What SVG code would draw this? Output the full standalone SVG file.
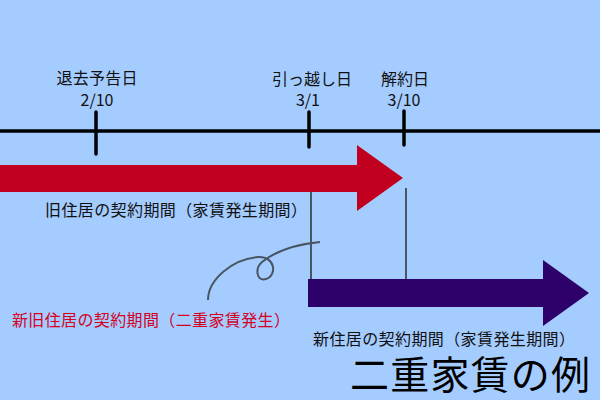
<svg xmlns="http://www.w3.org/2000/svg" width="600" height="400" viewBox="0 0 600 400">
<style>
text{font-family:"Noto Sans CJK JP","Noto Sans",sans-serif;font-size:16px;fill:#111}
.c{text-anchor:middle}
.tick{stroke:#000;stroke-width:3.5;stroke-linecap:round}
.guide{stroke:#4a5563;stroke-width:2;fill:none}
</style>
<rect width="600" height="400" fill="#a4ccff"/>
<g id="timeline">
<line x1="0" y1="131" x2="600" y2="131" stroke="#000" stroke-width="3.5"/>
</g>
<g id="date-notice">
<line class="tick" x1="96" y1="112" x2="96" y2="154"/>
<text class="c" x="97" y="84" textLength="81" lengthAdjust="spacing">退去予告日</text>
<text class="c" x="97" y="106">2/10</text>
</g>
<g id="date-move">
<line class="tick" x1="309" y1="112" x2="309" y2="147"/>
<text class="c" x="312" y="85" textLength="80" lengthAdjust="spacing">引っ越し日</text>
<text class="c" x="308" y="106">3/1</text>
</g>
<g id="date-cancel">
<line class="tick" x1="404" y1="111" x2="404" y2="145"/>
<text class="c" x="405" y="85">解約日</text>
<text class="c" x="404" y="106">3/10</text>
</g>
<g id="connectors">
<line class="guide" x1="311" y1="192" x2="311" y2="280"/>
<line class="guide" x1="406" y1="188" x2="406" y2="280"/>
<path class="guide" d="M208,300 C208,280 232,259 258,257 C276,256 277,276 266,279 C256,282 255,268 262,262 C272,254 290,245 320,242"/>
</g>
<g id="old-period">
<polygon points="0,165 357,165 357,145 403,178 357,211 357,192 0,192" fill="#c0001e"/>
<text x="45" y="216" textLength="262" lengthAdjust="spacing">旧住居の契約期間（家賃発生期間）</text>
</g>
<g id="new-period">
<polygon points="308,279 543,279 543,260 589,293 543,326 543,307 308,307" fill="#2e006a"/>
<text x="313" y="345" textLength="262" lengthAdjust="spacing">新住居の契約期間（家賃発生期間）</text>
</g>
<g id="overlap">
<text x="12" y="326" textLength="278" lengthAdjust="spacing" style="fill:#d4001e">新旧住居の契約期間（二重家賃発生）</text>
</g>
<g id="title">
<text x="350" y="389" textLength="240" lengthAdjust="spacing" style="font-size:39px;fill:#000">二重家賃の例</text>
</g>
</svg>
